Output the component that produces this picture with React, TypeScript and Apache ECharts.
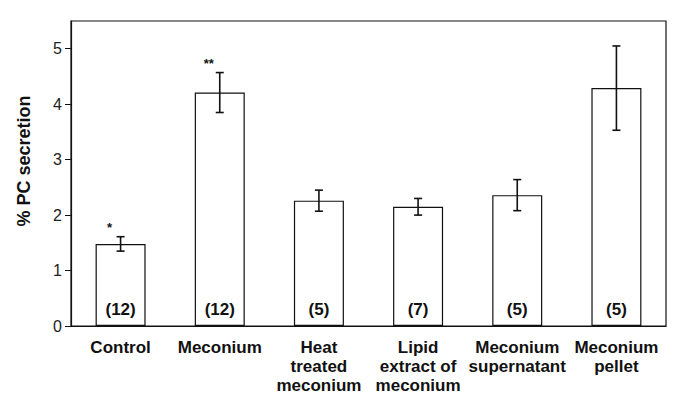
import React, { useEffect, useRef } from "react";
import * as echarts from "echarts";

const categories = [
  "Control",
  "Meconium",
  "Heat\ntreated\nmeconium",
  "Lipid\nextract of\nmeconium",
  "Meconium\nsupernatant",
  "Meconium\npellet",
];
const means = [1.48, 4.21, 2.26, 2.15, 2.36, 4.29];
const errors = [0.13, 0.36, 0.19, 0.15, 0.28, 0.76];
const counts = ["(12)", "(12)", "(5)", "(7)", "(5)", "(5)"];
const stars = ["*", "**", "", "", "", ""];
const yTicks = [0, 1, 2, 3, 4, 5];

const FONT = "Liberation Sans, Arial, Helvetica, sans-serif";

export default function App() {
  const ref = useRef<HTMLDivElement>(null);
  useEffect(() => {
    if (!ref.current) return;
    const chart = echarts.init(ref.current, undefined, { renderer: "svg" });
    const errData = means.map((m, i) => [i, m - errors[i], m + errors[i], stars[i]]);
    chart.setOption({
      animation: false,
      backgroundColor: "#fff",
      grid: {
        left: 71,
        right: 19,
        top: 21,
        bottom: 78,
        show: true,
        borderColor: "#111",
        borderWidth: 1.2,
        backgroundColor: "transparent",
      },
      xAxis: {
        type: "category",
        data: categories,
        boundaryGap: true,
        axisLine: { show: true, lineStyle: { color: "#111", width: 1.2 } },
        axisTick: { show: false },
        axisLabel: {
          interval: 0,
          color: "#111",
          fontFamily: FONT,
          fontWeight: "bold",
          fontSize: 17,
          lineHeight: 19,
          margin: 12,
        },
      },
      yAxis: {
        type: "value",
        min: 0,
        max: 5.5,
        interval: 1,
        splitLine: { show: false },
        axisLine: { show: true, lineStyle: { color: "#111", width: 1.2 } },
        axisTick: {
          show: true,
          inside: false,
          length: 6,
          customValues: yTicks,
          lineStyle: { color: "#111", width: 1 },
        },
        axisLabel: {
          customValues: yTicks,
          color: "#222",
          fontFamily: FONT,
          fontSize: 16,
          margin: 9,
        },
      },
      graphic: [
        {
          type: "text",
          x: 24,
          y: 161,
          rotation: Math.PI / 2,
          style: {
            text: "% PC secretion",
            fontFamily: FONT,
            fontWeight: "bold",
            fontSize: 18,
            fill: "#111",
            align: "center",
            verticalAlign: "middle",
          },
        },
      ],
      series: [
        {
          type: "bar",
          data: means,
          barWidth: 50,
          itemStyle: { color: "#fff", borderColor: "#111", borderWidth: 1.2 },
          label: {
            show: true,
            position: "insideBottom",
            distance: 8,
            formatter: (p: any) => counts[p.dataIndex],
            color: "#111",
            fontFamily: FONT,
            fontWeight: "bold",
            fontSize: 17,
          },
          z: 2,
        },
        {
          type: "custom",
          data: errData,
          z: 5,
          renderItem: (params: any, api: any) => {
            const x = api.value(0);
            const lo = api.coord([x, api.value(1)]);
            const hi = api.coord([x, api.value(2)]);
            const cap = 4;
            const style = { stroke: "#111", lineWidth: 1.6 };
            const star = stars[params.dataIndex];
            const children: any[] = [
              { type: "line", shape: { x1: hi[0], y1: hi[1], x2: lo[0], y2: lo[1] }, style },
              { type: "line", shape: { x1: hi[0] - cap, y1: hi[1], x2: hi[0] + cap, y2: hi[1] }, style },
              { type: "line", shape: { x1: lo[0] - cap, y1: lo[1], x2: lo[0] + cap, y2: lo[1] }, style },
            ];
            if (star) {
              children.push({
                type: "text",
                x: hi[0] - 11,
                y: hi[1] - 3,
                style: {
                  text: star,
                  fontFamily: FONT,
                  fontWeight: "bold",
                  fontSize: 13,
                  fill: "#111",
                  align: "center",
                  verticalAlign: "bottom",
                },
              });
            }
            return { type: "group", children };
          },
        },
      ],
    });
    return () => chart.dispose();
  }, []);
  return (
    <div
      ref={ref}
      style={{ position: "absolute", left: 0, top: 0, width: 685, height: 404 }}
    />
  );
}
